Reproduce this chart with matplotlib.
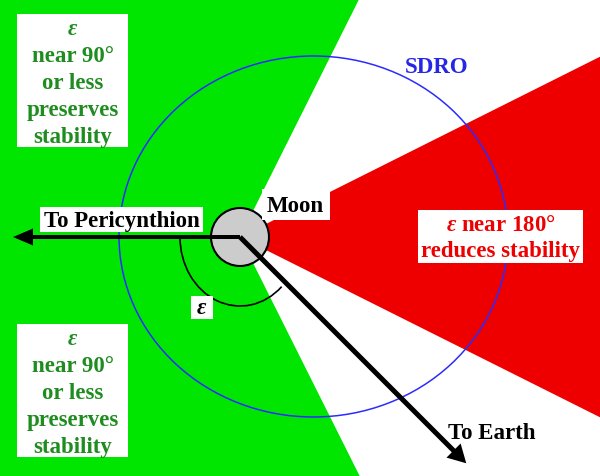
import numpy as np
import matplotlib
matplotlib.use("Agg")
import matplotlib.pyplot as plt
from matplotlib.patches import Wedge, Ellipse, Circle, Arc, FancyArrow, Rectangle

plt.rcParams['font.family'] = ['Liberation Serif', 'DejaVu Serif']
plt.rcParams['font.weight'] = 'bold'
plt.rcParams['mathtext.fontset'] = 'custom'
plt.rcParams['mathtext.it'] = 'Liberation Serif:italic:bold'
plt.rcParams['mathtext.rm'] = 'Liberation Serif:bold'

# geometry of the sketch (pixel units, y pointing down)
moon_center = (240, 238)
moon_radius = 29
orbit_center = (313.5, 237.5)
orbit_size = (389, 361)
green_half_angle = 63.4      # green region lies beyond this angle from +x
red_half_angle = 26.6        # red wedge opens +-this angle around +x
pericynthion_angle = 180
pericynthion_length = 227
earth_angle = 45
earth_length = 320
eps_arc_size = (120, 138)

# labels
green_lines = [r'$\varepsilon$', 'near 90°', 'or less', 'preserves', 'stability']
red_lines = [r'$\varepsilon$ near 180°', 'reduces stability']

GREEN = '#00e600'
RED = '#ee0000'
TXT_GREEN = '#1e8c1e'
BLUE = '#2b2bff'
FS = 16.5
FONT = dict(family='Liberation Serif', weight='bold', fontsize=FS,
            ha='center', va='baseline', zorder=7)

fig = plt.figure(figsize=(6, 4.77), dpi=100)
ax = fig.add_axes([0, 0, 1, 1])
ax.set_xlim(0, 600)
ax.set_ylim(477, 0)
ax.axis('off')

# stability regions
ax.add_patch(Wedge(moon_center, 2000, green_half_angle, 360 - green_half_angle,
                   facecolor=GREEN, edgecolor='none', zorder=1))
ax.add_patch(Wedge(moon_center, 2000, -red_half_angle, red_half_angle,
                   facecolor=RED, edgecolor='none', zorder=1))

# SDRO orbit
ax.add_patch(Ellipse(orbit_center, orbit_size[0], orbit_size[1], fill=False,
                     edgecolor=BLUE, lw=1.1, zorder=2))

# epsilon arc
ax.add_patch(Arc(moon_center, eps_arc_size[0], eps_arc_size[1],
                 theta1=earth_angle + 5, theta2=pericynthion_angle,
                 color='black', lw=1.2, zorder=3))

# moon
ax.add_patch(Circle(moon_center, moon_radius, facecolor='#cccccc',
                    edgecolor='black', lw=1.5, zorder=4))

# arrows
for ang, length, w, hw, hl in [(pericynthion_angle, pericynthion_length, 4, 17, 20),
                               (earth_angle, earth_length, 5, 20, 18)]:
    a = np.radians(ang)
    ax.add_patch(FancyArrow(moon_center[0], moon_center[1],
                            length * np.cos(a), length * np.sin(a),
                            width=w, head_width=hw, head_length=hl,
                            length_includes_head=True, color='black', lw=0,
                            zorder=5))


def box(x0, y0, x1, y1):
    ax.add_patch(Rectangle((x0, y0), x1 - x0, y1 - y0, facecolor='white',
                           edgecolor='none', zorder=6))


# green labels
for top in (15, 325):
    box(17, top, 128, top + 133)
    for i, line in enumerate(green_lines):
        ax.text(72.5, top + 20 + 27 * i, line, color=TXT_GREEN, **FONT)

# red label
box(418, 211, 583, 264)
for i, line in enumerate(red_lines):
    ax.text(500.5, 231 + 26 * i, line, color=RED, **FONT)

# pericynthion label
box(40, 208, 203, 233)
ax.text(121.5, 227, 'To Pericynthion', color='black', **FONT)

# moon label
box(262, 190, 330, 221)
ax.text(295.5, 212, 'Moon', color='black', **FONT)

# epsilon label
box(191, 297, 213, 320)
ax.text(202, 314, r'$\varepsilon$', color='black', **FONT)

ax.text(436.5, 73, 'SDRO', color='#2626e6', **FONT)
ax.text(492, 439, 'To Earth', color='black', **FONT)

fig.savefig('out.png', dpi=100)
